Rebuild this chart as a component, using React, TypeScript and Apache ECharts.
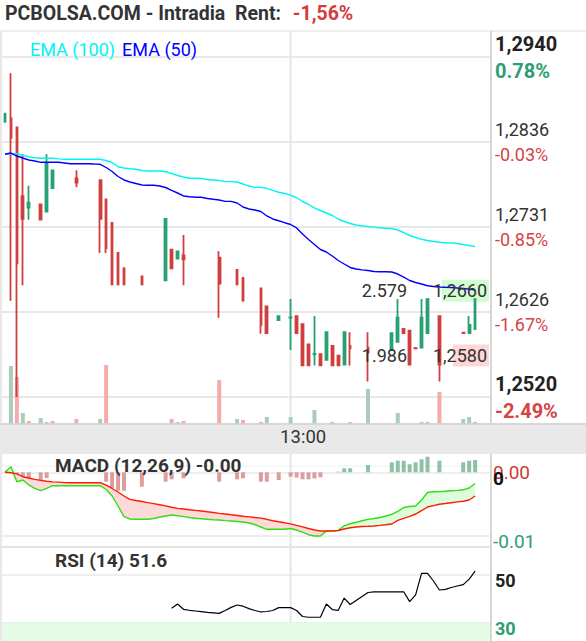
import React, { useEffect, useRef } from 'react';
import * as echarts from 'echarts';

const SLOTS = 82;
const times: string[] = Array.from({ length: SLOTS }, (_, i) => {
  const m = 9 * 60 + i * 5;
  return `${String(Math.floor(m / 60)).padStart(2, '0')}:${String(m % 60).padStart(2, '0')}`;
});
const timeLabel = '13:00';

// [open, close, low, high]
const candles: (number[] | null)[] = [
  [1.2860, 1.2870, 1.2860, 1.2870],
  [1.2864, 1.2840, 1.2639, 1.2920],
  [1.2853, 1.2685, 1.2520, 1.2853],
  [1.2768, 1.2740, 1.2658, 1.2820],
  [1.2754, 1.2760, 1.2739, 1.2781],
  null,
  [1.2758, 1.2739, 1.2738, 1.2759],
  [1.2749, 1.2809, 1.2748, 1.2820],
  [1.2778, 1.2800, 1.2777, 1.2800],
  null, null, null,
  [1.2790, 1.2785, 1.2779, 1.2800],
  null, null, null,
  [1.2788, 1.2740, 1.2698, 1.2788],
  [1.2764, 1.2704, 1.2698, 1.2764],
  [1.2735, 1.2659, 1.2659, 1.2735],
  [1.2698, 1.2659, 1.2659, 1.2698],
  [1.2679, 1.2659, 1.2659, 1.2679],
  null, null,
  [1.2669, 1.2659, 1.2659, 1.2669],
  null, null, null,
  [1.2664, 1.2740, 1.2664, 1.2740],
  [1.2702, 1.2679, 1.2679, 1.2702],
  [1.2691, 1.2700, 1.2691, 1.2700],
  [1.2695, 1.2690, 1.2658, 1.2720],
  null, null, null, null, null,
  [1.2692, 1.2660, 1.2618, 1.2700],
  null, null,
  [1.2677, 1.2659, 1.2659, 1.2677],
  [1.2667, 1.2639, 1.2639, 1.2667],
  null, null,
  [1.2654, 1.2609, 1.2598, 1.2654],
  [1.2632, 1.2599, 1.2599, 1.2632],
  null,
  [1.2615, 1.2620, 1.2615, 1.2620],
  null,
  [1.2618, 1.26182, 1.2578, 1.2641],
  [1.2620, 1.2599, 1.2599, 1.2620],
  [1.2610, 1.2559, 1.2559, 1.2610],
  [1.2585, 1.2559, 1.2559, 1.2585],
  [1.2573, 1.25732, 1.2559, 1.2620],
  [1.2573, 1.2559, 1.2559, 1.2573],
  [1.2566, 1.2600, 1.2566, 1.2600],
  [1.2583, 1.2559, 1.2559, 1.2583],
  [1.2571, 1.2559, 1.2559, 1.2571],
  [1.2560, 1.2600, 1.2559, 1.2600],
  [1.2583, 1.2580, 1.2559, 1.2600],
  null, null,
  [1.2581, 1.2575, 1.2539, 1.2600],
  null, null, null,
  [1.2578, 1.2599, 1.2578, 1.2599],
  [1.2588, 1.2618, 1.2588, 1.2641],
  [1.2604, 1.2599, 1.2599, 1.2604],
  [1.2602, 1.2560, 1.2560, 1.2602],
  [1.25805, 1.2580, 1.2580, 1.25805],
  [1.2581, 1.2618, 1.2581, 1.2641],
  [1.2599, 1.2641, 1.2599, 1.2641],
  null,
  [1.2620, 1.2560, 1.2539, 1.2620],
  null, null, null,
  [1.25995, 1.2599, 1.2599, 1.25995],
  [1.2599, 1.2609, 1.2599, 1.2620],
  [1.2604, 1.2641, 1.2604, 1.2641],
  null, null,
];

const ema100 = [
  1.28205, 1.28205, 1.28205, 1.28186, 1.28168, 1.28155, 1.28149, 1.28149, 1.28149, 1.28142,
  1.28136, 1.28136, 1.28136, 1.28136, 1.28136, 1.28136, 1.28136, 1.28121, 1.28097, 1.28044,
  1.28029, 1.28019, 1.28013, 1.27998, 1.27992, 1.27992, 1.27992, 1.27983, 1.27961, 1.27936,
  1.27918, 1.27902, 1.27902, 1.27899, 1.27887, 1.27881, 1.27874, 1.2786, 1.2786, 1.27856,
  1.27831, 1.27806, 1.2779, 1.2779, 1.27778, 1.27753, 1.27729, 1.27714, 1.27693, 1.27664,
  1.27615, 1.27578, 1.27535, 1.27504, 1.27473, 1.27442, 1.27399, 1.27368, 1.27343, 1.27325,
  1.27315, 1.27306, 1.27298, 1.2729, 1.27284, 1.27281, 1.27263, 1.27232, 1.27195, 1.2717,
  1.27148, 1.27133, 1.27121, 1.27111, 1.27106, 1.27102, 1.27096, 1.27084, 1.27071, 1.27057,
];

const ema50 = [
  1.28198, 1.28214, 1.28177, 1.28152, 1.28128, 1.28115, 1.28099, 1.28099, 1.28099, 1.28099,
  1.28091, 1.28082, 1.28082, 1.28082, 1.28082, 1.28078, 1.28075, 1.28035, 1.27986, 1.27924,
  1.27881, 1.27856, 1.27837, 1.27819, 1.27815, 1.27815, 1.27806, 1.27788, 1.27753, 1.2772,
  1.27683, 1.27674, 1.27667, 1.27667, 1.27652, 1.27642, 1.27634, 1.27617, 1.27617, 1.27596,
  1.27547, 1.27522, 1.2751, 1.27491, 1.27436, 1.27399, 1.27377, 1.27353, 1.27331, 1.27288,
  1.27213, 1.27146, 1.27084, 1.27022, 1.26991, 1.26942, 1.26886, 1.26843, 1.268, 1.26781,
  1.26771, 1.26763, 1.2675, 1.26748, 1.26748, 1.26744, 1.26719, 1.26682, 1.26639, 1.26614,
  1.26596, 1.26574, 1.26565, 1.26559, 1.26555, 1.26553, 1.26546, 1.2654, 1.26532, 1.26522,
];

// [slot, volume, direction (1 up, -1 down)]
const volumeBars: [number, number, number][] = [
  [1, 57300, 1], [2, 46300, -1], [3, 10300, 1], [4, 2300, -1], [6, 5300, 1], [7, 1300, 1],
  [8, 2300, -1], [12, 4300, -1], [16, 4300, 1], [17, 58300, -1], [28, 4300, -1], [29, 1300, 1],
  [30, 2300, -1], [36, 43300, -1], [39, 4300, 1], [40, 3300, -1], [43, 1300, -1], [44, 6300, 1],
  [48, 6300, 1], [52, 13300, 1], [55, 1300, -1], [58, 1300, -1], [61, 34300, 1], [66, 10300, 1],
  [70, 1300, 1], [71, 1300, 1], [73, 31300, -1], [77, 4300, 1], [78, 6300, 1], [79, 1300, 1],
];

const macdLine = [
  0, 0.00088, -0.00148, -0.00121, -0.00199, -0.00251, -0.00289, -0.00251, -0.0021, -0.0021,
  -0.0021, -0.0021, -0.0021, -0.0021, -0.0021, -0.0021, -0.0021, -0.0027, -0.00372, -0.00529,
  -0.00697, -0.00733, -0.00738, -0.00738, -0.00738, -0.00725, -0.00702, -0.00686, -0.0067, -0.00683,
  -0.00695, -0.0071, -0.00722, -0.0073, -0.00738, -0.00744, -0.00749, -0.00758, -0.00765, -0.00772,
  -0.0078, -0.00796, -0.0082, -0.00859, -0.00895, -0.00895, -0.00895, -0.00895, -0.00882, -0.00906,
  -0.0094, -0.0098, -0.01, -0.01, -0.00924, -0.0092, -0.00912, -0.0084, -0.00808, -0.00785,
  -0.00761, -0.00739, -0.00725, -0.0071, -0.00686, -0.00659, -0.00615, -0.00553, -0.00537, -0.00529,
  -0.00435, -0.00317, -0.00305, -0.00303, -0.00297, -0.0029, -0.00283, -0.00275, -0.00246, -0.00176,
];

const signalLine = [
  0, -0.00008, -0.00024, -0.00069, -0.00089, -0.00111, -0.00126, -0.00141, -0.00151, -0.00155,
  -0.00162, -0.00163, -0.00163, -0.00163, -0.00163, -0.00163, -0.00163, -0.00203, -0.00254, -0.00309,
  -0.00372, -0.00425, -0.00443, -0.00458, -0.00476, -0.00491, -0.00509, -0.00527, -0.00548, -0.00567,
  -0.00576, -0.00587, -0.00597, -0.00608, -0.0062, -0.00631, -0.00644, -0.00655, -0.00667, -0.00678,
  -0.00689, -0.00699, -0.0071, -0.00719, -0.00738, -0.0076, -0.00777, -0.00793, -0.0081, -0.00834,
  -0.00857, -0.00882, -0.00906, -0.00922, -0.00922, -0.00922, -0.00914, -0.0089, -0.00871, -0.00859,
  -0.00852, -0.00848, -0.00843, -0.00834, -0.00824, -0.00812, -0.00754, -0.00722, -0.00691, -0.00655,
  -0.00603, -0.00545, -0.00523, -0.00502, -0.0049, -0.00477, -0.00465, -0.00454, -0.00435, -0.00372,
];

// [slot, histogram value]
const macdHist: [number, number][] = [
  [2, -0.0011], [3, -0.00121], [4, -0.0009], [6, -0.00163], [7, -0.0009], [17, -0.00148],
  [18, -0.00251], [19, -0.00289], [20, -0.00289], [23, -0.00226], [27, -0.00148], [28, -0.0011],
  [30, -0.00094], [36, -0.00148], [39, -0.0011], [40, -0.00094], [43, -0.00148], [44, -0.00148],
  [46, -0.00121], [48, -0.00069], [49, -0.00082], [50, -0.0011], [51, -0.0011], [52, -0.00097],
  [53, -0.00079], [56, 0.0001], [57, 0.00063], [58, 0.00063], [61, 0.00115], [65, 0.00157],
  [66, 0.00182], [67, 0.00182], [68, 0.00126], [69, 0.00157], [70, 0.00204], [71, 0.00245],
  [73, 0.00182], [77, 0.00157], [78, 0.00182], [79, 0.00193],
];

const RSI_START = 28;
const rsi = [
  36.1, 37.9, 35.7, 35.3, 35.0, 34.7, 34.4, 34.2, 34.0, 35.2,
  36.5, 37.5, 37.0, 36.0, 35.2, 34.6, 34.8, 35.2, 36.4, 36.4,
  36.4, 35.2, 32.7, 32.4, 32.4, 32.4, 37.9, 35.6, 35.3, 40.4,
  37.7, 39.4, 41.0, 42.7, 43.0, 43.0, 43.0, 43.0, 43.0, 43.0,
  38.9, 41.7, 50.7, 50.7, 47.5, 43.75, 44.0, 44.8, 45.4, 46.0,
  48.3, 51.6,
];

const priceTicks = ['1,2520', '1,2626', '1,2731', '1,2836', '1,2940'];
const pctTicks = ['-2.49%', '-1.67%', '-0.85%', '-0.03%', '0.78%'];
const macdTickValues = [0, -0.01];
const macdTickLabels = ['0.00', '-0.01'];
const rsiTickValues = [50, 30];
const rsiTickLabels = ['50', '30'];

const askSize = '2.579';
const askPrice = 1.2660;
const askLabel = '1,2660';
const bidSize = '1.986';
const bidPrice = 1.2580;
const bidLabel = '1,2580';

const headerText = 'PCBOLSA.COM - Intradia  Rent:';
const rentText = '-1,56%';
const macdTitle = 'MACD (12,26,9) -0.00';
const rsiTitle = 'RSI (14) 51.6';

const FONT = 'Roboto';
const UP = '#27a073';
const DOWN = '#d03e3e';
const CYAN = '#00f4f4';
const BLUE = '#0000ff';
const GRID = '#e8e8e8';
const PCT_RED = '#d64343';
const PCT_GREEN = '#2e9e73';

export default function App() {
  const ref = useRef<HTMLDivElement>(null);

  useEffect(() => {
    if (!ref.current) return;
    const chart = echarts.init(ref.current, null, { renderer: 'svg' });

    const candleData = candles.map((c) => (c ? [c[0], c[1], c[2], c[3]] : '-'));
    const volData: any[] = times.map(() => '-');
    volumeBars.forEach(([s, v, d]) => {
      volData[s] = { value: v, itemStyle: { color: d > 0 ? '#a9ccbe' : '#f3abab' } };
    });
    const histData: any[] = times.map(() => '-');
    macdHist.forEach(([s, v]) => {
      histData[s] = { value: v, itemStyle: { color: v >= 0 ? '#8fc0a8' : '#dc9d9d' } };
    });
    const bandBase = macdLine.map((m, i) => Math.min(m, signalLine[i]));
    const bandDown = macdLine.map((m, i) => Math.max(signalLine[i] - m, 0));
    const bandUp = macdLine.map((m, i) => Math.max(m - signalLine[i], 0));
    const rsiData = times.map((_, i) =>
      i >= RSI_START && i - RSI_START < rsi.length ? rsi[i - RSI_START] : '-'
    );

    const xBase = (gridIndex: number) => ({
      type: 'category',
      gridIndex,
      data: times,
      boundaryGap: true,
      axisLine: { show: false },
      axisTick: { show: false },
      axisLabel: { show: false },
      splitLine: { show: false },
    });

    const gridBase = { left: 2, width: 488, outerBoundsMode: 'none', containLabel: false };

    const option: any = {
      animation: false,
      backgroundColor: '#ffffff',
      textStyle: { fontFamily: FONT },
      title: [
        {
          text: `${headerText} {r|${rentText}}`,
          left: 5,
          top: 3,
          padding: 0,
          textStyle: {
            fontFamily: FONT,
            fontSize: 19.5,
            fontWeight: 'bold',
            color: '#333333',
            rich: {
              r: { fontFamily: FONT, fontSize: 19.5, color: '#d43c3c', padding: [0, 0, 0, 7] },
            },
          },
        },
        {
          text: macdTitle,
          left: 55,
          top: 456,
          padding: 0,
          textStyle: { fontFamily: FONT, fontSize: 19, fontWeight: 'bold', color: '#333333' },
        },
        {
          text: rsiTitle,
          left: 55,
          top: 551,
          padding: 0,
          textStyle: { fontFamily: FONT, fontSize: 19, fontWeight: 'bold', color: '#333333' },
        },
      ],
      legend: {
        left: 20,
        top: 35,
        icon: 'rect',
        itemWidth: 0,
        itemHeight: 0,
        itemGap: 2,
        selectedMode: false,
        textStyle: { fontFamily: FONT, fontSize: 18 },
        data: [
          { name: 'EMA (100)', textStyle: { color: CYAN } },
          { name: 'EMA (50)', textStyle: { color: BLUE } },
        ],
      },
      grid: [
        { ...gridBase, top: 57, height: 340 },
        { ...gridBase, top: 323.3, height: 100 },
        { ...gridBase, top: 408.6, height: 191.1 },
        { ...gridBase, top: 551, height: 96 },
      ],
      xAxis: [
        xBase(0),
        {
          ...xBase(1),
          z: 10,
          axisLabel: {
            show: true,
            interval: 0,
            margin: 4,
            formatter: (v: string) => (v === timeLabel ? `{t|${v}}` : ''),
            rich: {
              t: { fontFamily: FONT, fontSize: 18.5, color: '#333333', padding: [0, 0, 0, 25] },
            },
          },
        },
        xBase(2),
        xBase(3),
      ],
      yAxis: [
        { type: 'value', gridIndex: 0, min: 1.252, max: 1.294, show: false },
        {
          type: 'value',
          gridIndex: 0,
          min: 0,
          max: 4,
          interval: 1,
          position: 'right',
          axisLine: { show: false },
          axisTick: { show: false },
          splitLine: { show: true, lineStyle: { color: GRID, width: 2 } },
          axisLabel: {
            margin: 5,
            align: 'left',
            formatter: (v: number) => {
              const i = Math.round(v);
              const bold = i === 0 || i === priceTicks.length - 1;
              const pos = pctTicks[i].charAt(0) !== '-';
              const pk = bold ? 'pb' : 'p';
              const qk = (pos ? 'g' : 'r') + (bold ? 'b' : '');
              return `{${pk}|${priceTicks[i]}}\n{${qk}|${pctTicks[i]}}`;
            },
            rich: {
              p: { fontFamily: FONT, fontSize: 18, color: '#333333', lineHeight: 25 },
              pb: { fontFamily: FONT, fontSize: 20, fontWeight: 'bold', color: '#222222', lineHeight: 27 },
              r: { fontFamily: FONT, fontSize: 18, color: PCT_RED, lineHeight: 25 },
              rb: { fontFamily: FONT, fontSize: 20, fontWeight: 'bold', color: PCT_RED, lineHeight: 27 },
              g: { fontFamily: FONT, fontSize: 18, color: PCT_GREEN, lineHeight: 25 },
              gb: { fontFamily: FONT, fontSize: 20, fontWeight: 'bold', color: PCT_GREEN, lineHeight: 27 },
            },
          },
        },
        { type: 'value', gridIndex: 1, min: 0, max: 100000, show: false },
        {
          type: 'value',
          gridIndex: 2,
          min: -0.02,
          max: 0.01,
          interval: 0.01,
          position: 'right',
          axisLine: { show: false },
          axisTick: { show: false },
          splitLine: {
            show: true,
            showMinLine: false,
            showMaxLine: false,
            lineStyle: { color: GRID, width: 1.5 },
          },
          axisLabel: {
            margin: 3,
            align: 'left',
            formatter: (v: number) => {
              const k = macdTickValues.findIndex((t) => Math.abs(t - v) < 1e-9);
              if (k < 0) return '';
              return k === 0 ? `{r|${macdTickLabels[k]}}` : `{g|${macdTickLabels[k]}}`;
            },
            rich: {
              r: { fontFamily: FONT, fontSize: 19, color: '#d03a3a' },
              g: { fontFamily: FONT, fontSize: 19, color: PCT_GREEN, padding: [10, 0, 0, 0] },
            },
          },
        },
        {
          type: 'value',
          gridIndex: 3,
          min: 20,
          max: 60,
          interval: 10,
          position: 'right',
          axisLine: { show: false },
          axisTick: { show: false },
          splitLine: {
            show: true,
            showMinLine: false,
            showMaxLine: false,
            lineStyle: { color: ['#d9f2d9', 'transparent', GRID], width: 1.5 },
          },
          axisLabel: {
            margin: 5,
            align: 'left',
            formatter: (v: number) => {
              const k = rsiTickValues.findIndex((t) => Math.abs(t - v) < 1e-9);
              if (k < 0) return '';
              return k === 0 ? `{k|${rsiTickLabels[k]}}` : `{g|${rsiTickLabels[k]}}`;
            },
            rich: {
              k: { fontFamily: FONT, fontSize: 18, fontWeight: 'bold', color: '#222222', padding: [10, 0, 0, 0] },
              g: { fontFamily: FONT, fontSize: 18, fontWeight: 'bold', color: PCT_GREEN, padding: [10, 0, 0, 0] },
            },
          },
        },
      ],
      series: [
        {
          name: 'Volumen',
          type: 'bar',
          xAxisIndex: 1,
          yAxisIndex: 2,
          barWidth: 4,
          z: 1,
          data: volData,
        },
        {
          name: 'PCBOLSA',
          type: 'candlestick',
          xAxisIndex: 0,
          yAxisIndex: 0,
          barWidth: 2.2,
          z: 3,
          itemStyle: {
            color: UP,
            color0: DOWN,
            borderColor: UP,
            borderColor0: DOWN,
            borderWidth: 1.8,
          },
          data: candleData,
        },
        {
          name: 'EMA (100)',
          type: 'line',
          xAxisIndex: 0,
          yAxisIndex: 0,
          symbol: 'none',
          z: 4,
          lineStyle: { color: CYAN, width: 1.4 },
          itemStyle: { color: CYAN },
          data: ema100,
        },
        {
          name: 'EMA (50)',
          type: 'line',
          xAxisIndex: 0,
          yAxisIndex: 0,
          symbol: 'none',
          z: 4,
          lineStyle: { color: BLUE, width: 1.4 },
          itemStyle: { color: BLUE },
          data: ema50,
        },
        {
          name: 'Histograma',
          type: 'bar',
          xAxisIndex: 2,
          yAxisIndex: 3,
          barWidth: 4,
          z: 1,
          data: histData,
        },
        {
          name: 'base',
          type: 'line',
          xAxisIndex: 2,
          yAxisIndex: 3,
          stack: 'macd',
          stackStrategy: 'all',
          symbol: 'none',
          z: 2,
          lineStyle: { opacity: 0 },
          data: bandBase,
        },
        {
          name: 'bandDown',
          type: 'line',
          xAxisIndex: 2,
          yAxisIndex: 3,
          stack: 'macd',
          stackStrategy: 'all',
          symbol: 'none',
          z: 2,
          lineStyle: { opacity: 0 },
          areaStyle: { color: '#fddada', opacity: 1 },
          data: bandDown,
        },
        {
          name: 'bandUp',
          type: 'line',
          xAxisIndex: 2,
          yAxisIndex: 3,
          stack: 'macd',
          stackStrategy: 'all',
          symbol: 'none',
          z: 2,
          lineStyle: { opacity: 0 },
          areaStyle: { color: '#dcfcdc', opacity: 1 },
          data: bandUp,
        },
        {
          name: 'MACD',
          type: 'line',
          xAxisIndex: 2,
          yAxisIndex: 3,
          symbol: 'none',
          z: 3,
          lineStyle: { color: '#33dd11', width: 1.4 },
          data: macdLine,
        },
        {
          name: 'Señal',
          type: 'line',
          xAxisIndex: 2,
          yAxisIndex: 3,
          symbol: 'none',
          z: 4,
          lineStyle: { color: '#ff1a00', width: 1.4 },
          data: signalLine,
        },
        {
          name: 'RSI',
          type: 'line',
          xAxisIndex: 3,
          yAxisIndex: 4,
          symbol: 'none',
          z: 3,
          lineStyle: { color: '#000000', width: 1.2 },
          data: rsiData,
          markArea: {
            silent: true,
            itemStyle: { color: '#e6fbe6' },
            data: [[{ yAxis: 20 }, { yAxis: 30 }]],
          },
        },
      ],
    };

    chart.setOption(option);

    const x13 = chart.convertToPixel({ xAxisIndex: 0 }, times.indexOf(timeLabel)) as number;
    const yAsk = (chart.convertToPixel({ yAxisIndex: 0 }, askPrice) as number) + 7;
    const yBid = (chart.convertToPixel({ yAxisIndex: 0 }, bidPrice) as number) + 7;
    const quoteFont = { fontFamily: FONT, fontSize: 18, fill: '#333333' };

    chart.setOption({
      graphic: [
        { type: 'line', silent: true, z: 0, shape: { x1: 0, y1: 31, x2: 586, y2: 31 }, style: { stroke: GRID, lineWidth: 1.5 } },
        { type: 'line', silent: true, z: 0, shape: { x1: 1, y1: 31, x2: 1, y2: 641 }, style: { stroke: GRID, lineWidth: 2 } },
        { type: 'line', silent: true, z: 0, shape: { x1: x13, y1: 31, x2: x13, y2: 641 }, style: { stroke: '#e6e6e6', lineWidth: 2 } },
        { type: 'line', silent: true, z: 0, shape: { x1: 2, y1: 466, x2: 490, y2: 466 }, style: { stroke: '#efefef', lineWidth: 1 } },
        { type: 'line', silent: true, z: 0, shape: { x1: 0, y1: 547, x2: 490, y2: 547 }, style: { stroke: '#e4e4e4', lineWidth: 2 } },
        { type: 'line', silent: true, z: 0, shape: { x1: 491, y1: 31, x2: 491, y2: 641 }, style: { stroke: '#d6d6d6', lineWidth: 2 } },
        { type: 'rect', silent: true, z: 1, shape: { x: 0, y: 424, width: 586, height: 30 }, style: { fill: '#e9e9e9' } },
        { type: 'line', silent: true, z: 1, shape: { x1: 0, y1: 424, x2: 586, y2: 424 }, style: { stroke: '#d8d8d8', lineWidth: 2 } },
        { type: 'rect', silent: true, z: 1, shape: { x: 442, y: yAsk - 11, width: 47, height: 22 }, style: { fill: '#d4fcd2' } },
        { type: 'rect', silent: true, z: 1, shape: { x: 453, y: yBid - 11, width: 36, height: 22 }, style: { fill: '#ffd6d6' } },
        { type: 'text', silent: true, z: 5, x: 407, y: yAsk, style: { ...quoteFont, text: askSize, align: 'right', verticalAlign: 'middle' } },
        { type: 'text', silent: true, z: 5, x: 487, y: yAsk, style: { ...quoteFont, text: askLabel, align: 'right', verticalAlign: 'middle' } },
        { type: 'text', silent: true, z: 5, x: 407, y: yBid, style: { ...quoteFont, text: bidSize, align: 'right', verticalAlign: 'middle' } },
        { type: 'text', silent: true, z: 5, x: 487, y: yBid, style: { ...quoteFont, text: bidLabel, align: 'right', verticalAlign: 'middle' } },
        { type: 'text', silent: true, z: 5, x: 493, y: 478, style: { fontFamily: FONT, fontSize: 19, fontWeight: 'bold', fill: '#111111', text: '0', align: 'left', verticalAlign: 'middle' } },
      ],
    });

    return () => chart.dispose();
  }, []);

  return (
    <div
      ref={ref}
      style={{ position: 'absolute', left: 0, top: 0, width: 586, height: 641, background: '#ffffff' }}
    />
  );
}
